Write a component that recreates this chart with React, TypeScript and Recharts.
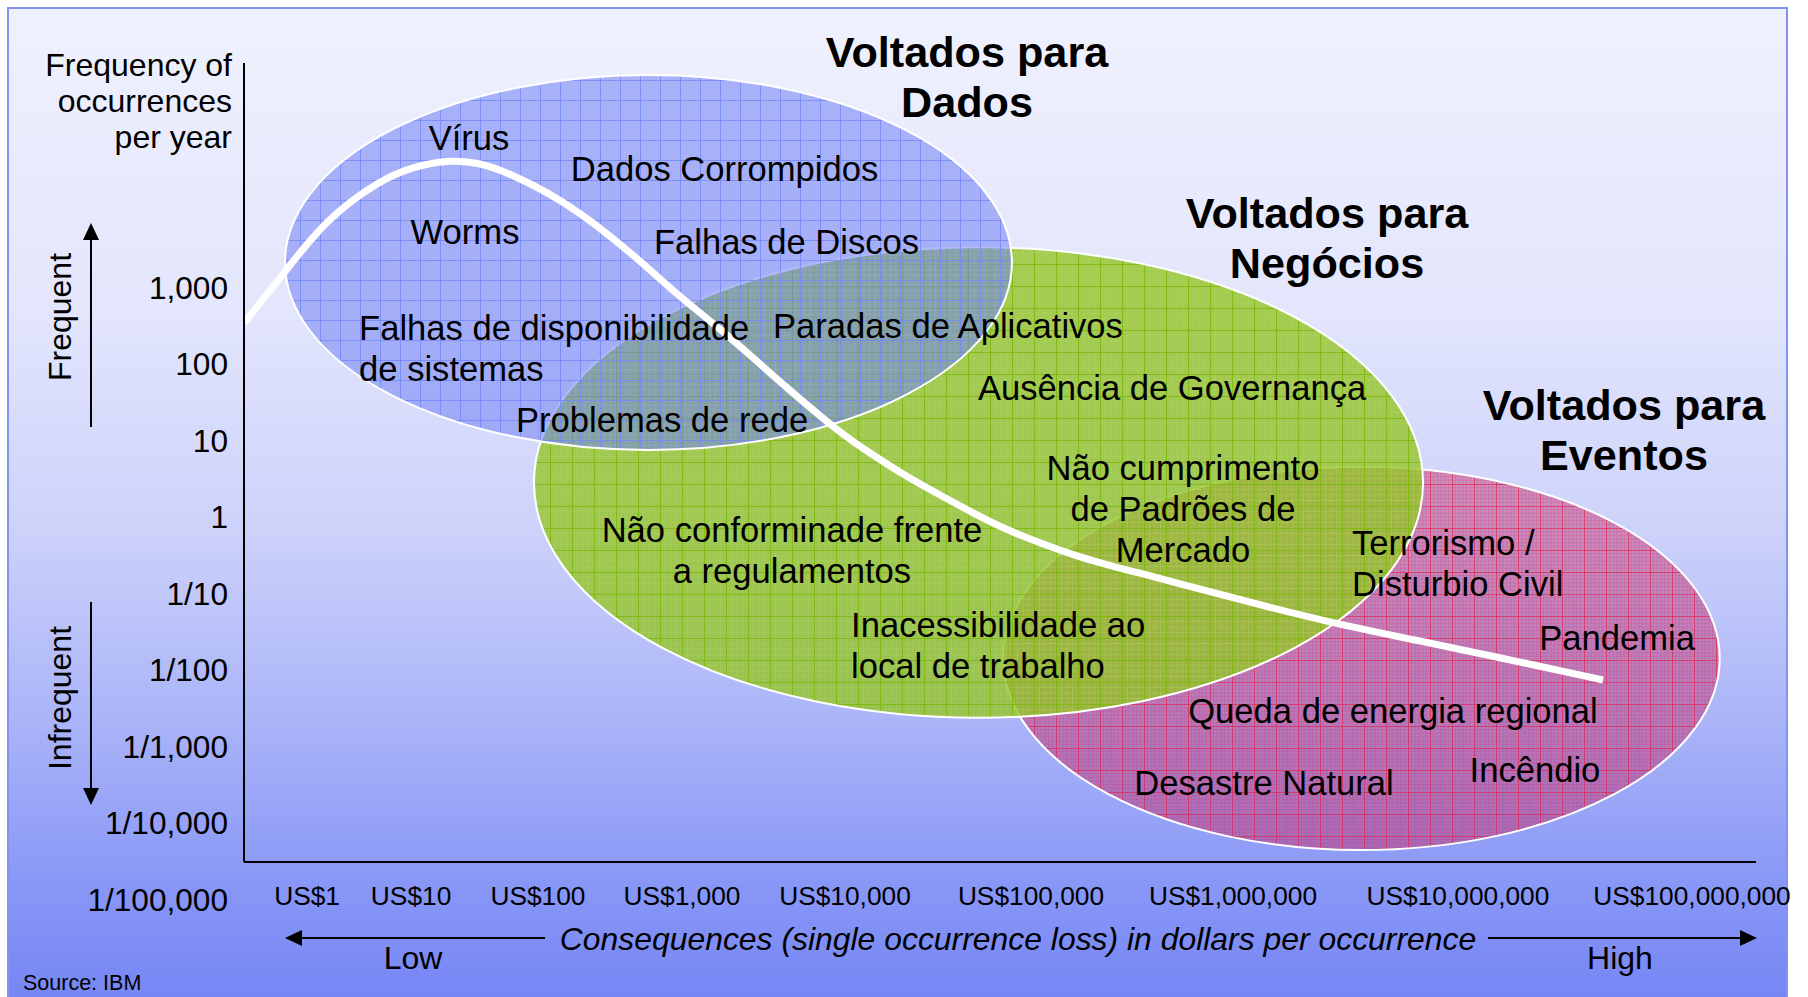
import { ComposedChart, Line, XAxis, YAxis, ReferenceArea, ReferenceDot } from 'recharts';

const FONT = '"Liberation Sans", Arial, Helvetica, sans-serif';

// x axis: position along the loss axis (0-100), labels are the dollar steps
const xTickValues = [4.17, 11.05, 19.44, 28.97, 39.75, 52.05, 65.41, 80.29, 95.77];
const xTickLabels = ['US$1', 'US$10', 'US$100', 'US$1,000', 'US$10,000', 'US$100,000', 'US$1,000,000', 'US$10,000,000', 'US$100,000,000'];

// y axis: log10 of occurrences per year
const yTickValues = [3, 2, 1, 0, -1, -2, -3, -4, -5];
const yTickLabels = ['1,000', '100', '10', '1', '1/10', '1/100', '1/1,000', '1/10,000', '1/100,000'];

// white risk curve
const curveX = [0, 2.71, 5.36, 8.99, 11.18, 13.43, 15.61, 17.79, 20.04, 22.22, 24.4, 26.65, 28.84, 31.02, 33.47, 35.91, 39.42, 41.6, 43.85, 46.03, 48.21, 50.46, 52.65, 54.83, 57.08, 59.26, 61.44, 66.47, 71.96, 77.45, 82.87, 89.88];
const curveY = [2.529, 3.196, 3.876, 4.399, 4.569, 4.66, 4.63, 4.464, 4.242, 3.967, 3.641, 3.261, 2.869, 2.529, 2.111, 1.68, 1.092, 0.804, 0.516, 0.281, 0.046, -0.176, -0.346, -0.503, -0.634, -0.739, -0.856, -1.118, -1.392, -1.614, -1.837, -2.137];

// ellipse zones (drawn back to front: eventos, negocios, dados)
const zoneIds = ['eventos', 'negocios', 'dados'];
const zoneX1 = [50.2, 19.18, 2.71];
const zoneX2 = [97.6, 77.98, 50.79];
const zoneY1 = [-4.36, -2.63, 0.87];
const zoneY2 = [0.65, 3.52, 5.77];

// zone titles
const titleLines = [['Voltados para', 'Dados'], ['Voltados para', 'Negócios'], ['Voltados para', 'Eventos']];
const titleX = [47.82, 71.63, 91.27];
const titleY = [6.07, 3.97, 1.457];

// risks written inside the zones
const riskLines = [
  ['Vírus'],
  ['Dados Corrompidos'],
  ['Worms'],
  ['Falhas de Discos'],
  ['Falhas de disponibilidade', 'de sistemas'],
  ['Paradas de Aplicativos'],
  ['Ausência de Governança'],
  ['Problemas de rede'],
  ['Não cumprimento', 'de Padrões de', 'Mercado'],
  ['Não conforminade frente', 'a regulamentos'],
  ['Terrorismo /', 'Disturbio Civil'],
  ['Inacessibilidade ao', 'local de trabalho'],
  ['Pandemia'],
  ['Queda de energia regional'],
  ['Incêndio'],
  ['Desastre Natural'],
];
const riskX = [14.88, 31.78, 14.62, 35.88, 7.61, 34.99, 61.38, 27.65, 62.1, 36.24, 73.28, 40.15, 90.81, 75.99, 85.38, 67.46];
const riskY = [4.95, 4.54, 3.72, 3.59, 2.46, 2.49, 1.68, 1.26, 0.634, -0.176, -0.346, -1.418, -1.588, -2.54, -3.31, -3.48];
const riskAnchor = ['middle', 'middle', 'middle', 'middle', 'start', 'start', 'middle', 'middle', 'middle', 'middle', 'start', 'start', 'middle', 'middle', 'middle', 'middle'];

const curveData = curveX.map((x, i) => ({ x, y: curveY[i] }));

const Y_MIN = -4.516;
const Y_MAX = 5.928;

const nearestIndex = (arr: number[], v: number) => {
  let best = 0;
  arr.forEach((a, i) => {
    if (Math.abs(a - v) < Math.abs(arr[best] - v)) best = i;
  });
  return best;
};

const XTick = (props: any) => {
  const { x, y, payload } = props;
  const i = nearestIndex(xTickValues, payload.value);
  return (
    <text x={x} y={y + 43} textAnchor="middle" fontSize={26.3} fontFamily={FONT} fill="#000">
      {xTickLabels[i]}
    </text>
  );
};

const YTick = (props: any) => {
  const { x, y, payload } = props;
  const i = nearestIndex(yTickValues, payload.value);
  return (
    <text x={x - 16} y={y + 11.5} textAnchor="end" fontSize={31.6} fontFamily={FONT} fill="#000">
      {yTickLabels[i]}
    </text>
  );
};

// grid-textured fills, like the original slide
const Pattern = ({ id }: { id: string }) => {
  if (id === 'dados') {
    return (
      <pattern id="pat-dados" patternUnits="userSpaceOnUse" width={20} height={20}>
        <rect width={20} height={20} fill="rgb(108,124,242)" fillOpacity={0.52} />
        <path d="M5 0V20M10 0V20M15 0V20M0 5H20M0 10H20M0 15H20" stroke="rgb(160,170,250)" strokeOpacity={0.25} strokeWidth={1} />
        <path d="M0.5 0V20M0 0.5H20" stroke="rgb(118,136,248)" strokeOpacity={0.85} strokeWidth={1} />
      </pattern>
    );
  }
  if (id === 'negocios') {
    return (
      <pattern id="pat-negocios" patternUnits="userSpaceOnUse" width={22} height={22}>
        <rect width={22} height={22} fill="rgb(148,196,40)" fillOpacity={0.8} />
        <path d="M5.5 0V22M11 0V22M16.5 0V22M0 5.5H22M0 11H22M0 16.5H22" stroke="rgb(176,214,90)" strokeOpacity={0.35} strokeWidth={1} />
        <path d="M0.5 0V22M0 0.5H22" stroke="rgb(128,186,14)" strokeOpacity={0.9} strokeWidth={1} />
      </pattern>
    );
  }
  return (
    <pattern id="pat-eventos" patternUnits="userSpaceOnUse" width={22} height={22}>
      <rect width={22} height={22} fill="rgb(196,46,112)" fillOpacity={0.44} />
      <path d="M3.7 0V22M7.3 0V22M11 0V22M14.7 0V22M18.3 0V22M0 3.7H22M0 7.3H22M0 11H22M0 14.7H22M0 18.3H22" stroke="rgb(215,40,90)" strokeOpacity={0.2} strokeWidth={1} />
      <path d="M0.5 0V22M0 0.5H22" stroke="rgb(232,24,64)" strokeOpacity={0.6} strokeWidth={1} />
    </pattern>
  );
};

const makeEllipse = (id: string) => (props: any) => {
  const { x, y, width, height } = props;
  return (
    <g>
      <defs>
        <Pattern id={id} />
      </defs>
      <ellipse
        cx={x + width / 2}
        cy={y + height / 2}
        rx={Math.abs(width) / 2}
        ry={Math.abs(height) / 2}
        fill={`url(#pat-${id})`}
        stroke="#ffffff"
        strokeWidth={2}
      />
    </g>
  );
};

const makeText = (lines: string[], anchor: string, size: number, weight: string, lineH: number) => (props: any) => {
  const { cx, cy } = props;
  return (
    <text textAnchor={anchor as any} fontSize={size} fontWeight={weight} fontFamily={FONT} fill="#000">
      {lines.map((l, i) => (
        <tspan key={i} x={cx} y={cy + size * 0.345 + i * lineH}>
          {l}
        </tspan>
      ))}
    </text>
  );
};

const Arrow = ({ x1, y1, x2, y2 }: { x1: number; y1: number; x2: number; y2: number }) => {
  const dx = x2 - x1;
  const dy = y2 - y1;
  const len = Math.sqrt(dx * dx + dy * dy);
  const ux = dx / len;
  const uy = dy / len;
  const hl = 17;
  const hw = 8;
  const bx = x2 - ux * hl;
  const by = y2 - uy * hl;
  return (
    <g>
      <line x1={x1} y1={y1} x2={bx} y2={by} stroke="#000" strokeWidth={2} />
      <polygon points={`${x2},${y2} ${bx - uy * hw},${by + ux * hw} ${bx + uy * hw},${by - ux * hw}`} fill="#000" />
    </g>
  );
};

export default function App() {
  return (
    <div style={{ position: 'absolute', left: 0, top: 0, width: 1808, height: 997, background: '#fff', overflow: 'hidden' }}>
      <div
        style={{
          position: 'absolute',
          left: 7,
          top: 7,
          width: 1781,
          height: 1000,
          boxSizing: 'border-box',
          border: '2px solid #8393f0',
          background: 'linear-gradient(180deg, #eff1fd 0%, #e3e6fc 30%, #cdd2fa 52%, #a9b3f8 72%, #8897f6 88%, #7585f4 100%)',
        }}
      />
      <div style={{ position: 'absolute', left: 0, top: 0 }}>
        <ComposedChart width={1808} height={997} data={curveData} margin={{ top: 63, right: 52, bottom: 75, left: 8 }}>
          <XAxis
            type="number"
            dataKey="x"
            domain={[0, 100]}
            allowDataOverflow
            ticks={xTickValues}
            interval={0}
            tick={<XTick />}
            tickLine={false}
            tickSize={0}
            tickMargin={0}
            height={60}
            axisLine={{ stroke: '#000', strokeWidth: 2 }}
          />
          <YAxis
            type="number"
            dataKey="y"
            domain={[Y_MIN, Y_MAX]}
            allowDataOverflow
            ticks={yTickValues}
            interval={0}
            tick={<YTick />}
            tickLine={false}
            tickSize={0}
            tickMargin={0}
            width={236}
            axisLine={{ stroke: '#000', strokeWidth: 2 }}
          />
          {zoneIds.map((id, i) => (
            <ReferenceArea
              key={id}
              x1={zoneX1[i]}
              x2={zoneX2[i]}
              y1={zoneY1[i]}
              y2={zoneY2[i]}
              ifOverflow="visible"
              shape={makeEllipse(id)}
            />
          ))}
          {riskLines.map((lines, i) => (
            <ReferenceDot
              key={`risk-${i}`}
              x={riskX[i]}
              y={riskY[i]}
              r={1}
              ifOverflow="visible"
              shape={makeText(lines, riskAnchor[i], 34.6, 'normal', 41)}
            />
          ))}
          {titleLines.map((lines, i) => (
            <ReferenceDot
              key={`title-${i}`}
              x={titleX[i]}
              y={titleY[i]}
              r={1}
              ifOverflow="visible"
              shape={makeText(lines, 'middle', 43.2, 'bold', 50)}
            />
          ))}
          <Line
            type="basis"
            dataKey="y"
            stroke="#ffffff"
            strokeWidth={7}
            dot={false}
            activeDot={false}
            isAnimationActive={false}
          />
        </ComposedChart>
      </div>
      <svg width={1808} height={997} style={{ position: 'absolute', left: 0, top: 0, pointerEvents: 'none' }} fontFamily={FONT}>
        <text textAnchor="end" fontSize={32} fill="#000">
          <tspan x={232} y={76}>Frequency of</tspan>
          <tspan x={232} y={112}>occurrences</tspan>
          <tspan x={232} y={148}>per year</tspan>
        </text>
        <text x={71} y={317} fontSize={32} textAnchor="middle" transform="rotate(-90 71 317)" fill="#000">
          Frequent
        </text>
        <text x={71} y={698} fontSize={32} textAnchor="middle" transform="rotate(-90 71 698)" fill="#000">
          Infrequent
        </text>
        <Arrow x1={91} y1={427} x2={91} y2={223} />
        <Arrow x1={91} y1={602} x2={91} y2={805} />
        <Arrow x1={545} y1={938} x2={285} y2={938} />
        <Arrow x1={1488} y1={938} x2={1757} y2={938} />
        <text x={1018} y={950} fontSize={31.9} fontStyle="italic" textAnchor="middle" fill="#000">
          Consequences (single occurrence loss) in dollars per occurrence
        </text>
        <text x={413} y={969} fontSize={32} textAnchor="middle" fill="#000">
          Low
        </text>
        <text x={1620} y={969} fontSize={32} textAnchor="middle" fill="#000">
          High
        </text>
        <text x={23} y={990} fontSize={21.5} fill="#000">
          Source: IBM
        </text>
      </svg>
    </div>
  );
}
